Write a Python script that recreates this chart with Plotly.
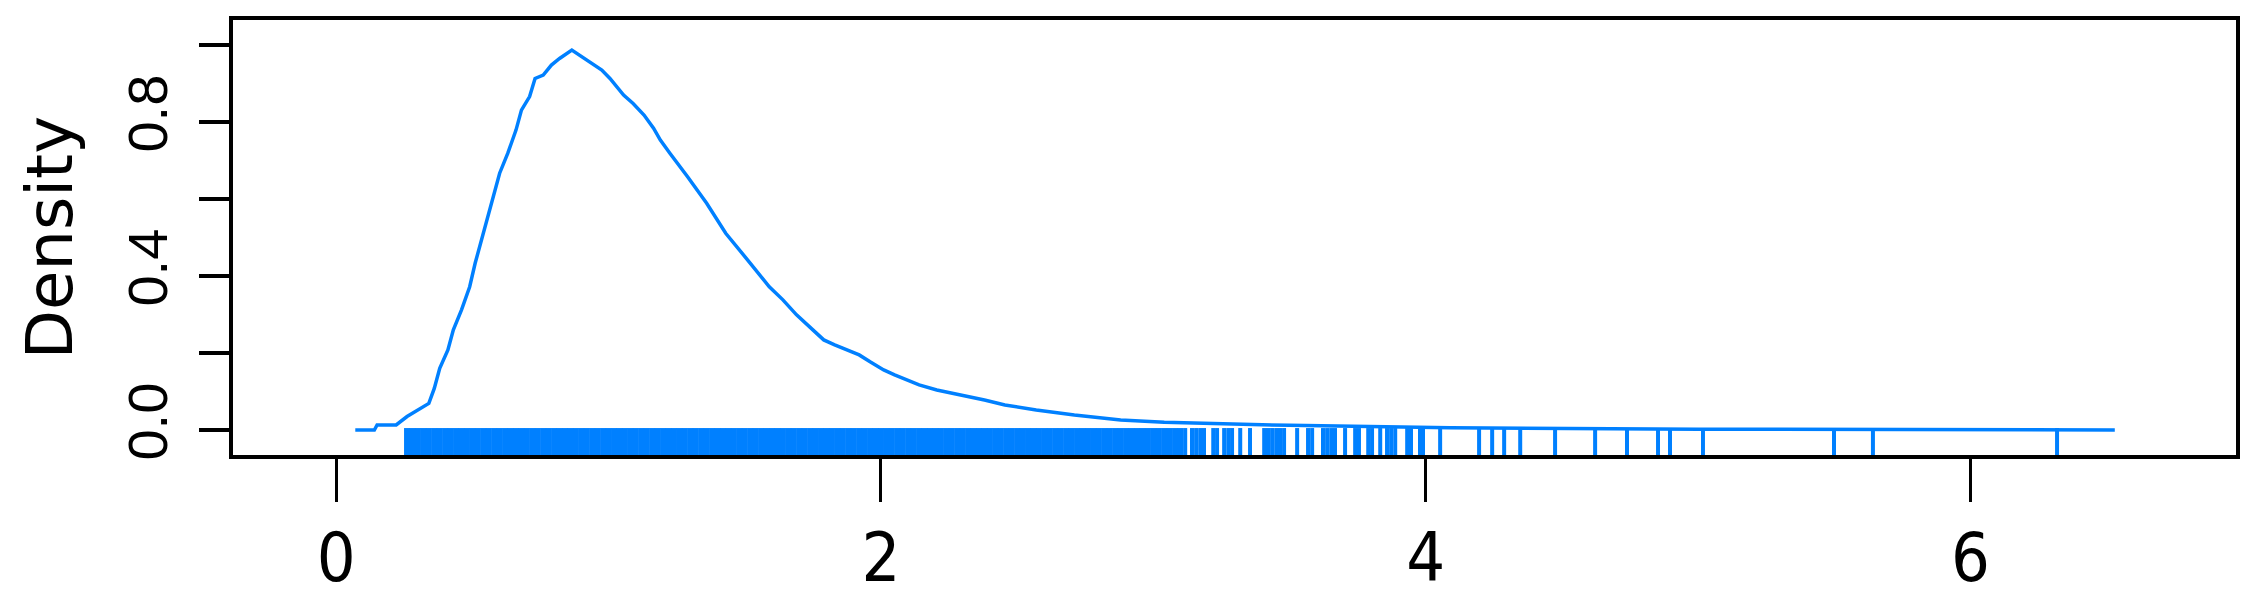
import plotly.graph_objects as go

# density curve
dens_x = [0.07, 0.14, 0.15, 0.22, 0.26, 0.30, 0.34, 0.36, 0.38, 0.41, 0.43, 0.46,
          0.49, 0.51, 0.54, 0.57, 0.60, 0.63, 0.66, 0.68, 0.71, 0.73, 0.76, 0.79,
          0.82, 0.865, 0.91, 0.945, 0.975, 1.005, 1.055, 1.09, 1.13, 1.165, 1.19,
          1.225, 1.26, 1.29, 1.36, 1.43, 1.51, 1.57, 1.59, 1.64, 1.69, 1.75, 1.79,
          1.83, 1.875, 1.92, 1.96, 2.01, 2.05, 2.095, 2.14, 2.205, 2.30, 2.38,
          2.455, 2.57, 2.71, 2.88, 3.04, 3.5, 4.09, 5.0, 6.53]
dens_y = [0.0, 0.0, 0.013, 0.013, 0.035, 0.052, 0.069, 0.108, 0.160, 0.208, 0.260, 0.312,
          0.372, 0.433, 0.511, 0.589, 0.667, 0.719, 0.779, 0.831, 0.866, 0.913, 0.922, 0.948,
          0.965, 0.987, 0.965, 0.948, 0.935, 0.913, 0.870, 0.848, 0.818, 0.784, 0.753,
          0.719, 0.688, 0.658, 0.589, 0.511, 0.442, 0.390, 0.372, 0.338, 0.299, 0.260, 0.234,
          0.221, 0.208, 0.195, 0.177, 0.156, 0.143, 0.130, 0.117, 0.104, 0.091, 0.078,
          0.065, 0.052, 0.039, 0.026, 0.020, 0.012, 0.006, 0.002, 0.0]

# rug: the dense part looks solid, so observations are listed close together
rug_dense = [0.26, 0.28, 0.30, 0.32, 0.34, 0.36, 0.38, 0.40, 0.42, 0.44, 0.46, 0.48,
             0.50, 0.52, 0.54, 0.56, 0.58, 0.60, 0.62, 0.64, 0.66, 0.68, 0.70, 0.72,
             0.74, 0.76, 0.78, 0.80, 0.82, 0.84, 0.86, 0.88, 0.90, 0.92, 0.94, 0.96,
             0.98, 1.00, 1.02, 1.04, 1.06, 1.08, 1.10, 1.12, 1.14, 1.16, 1.18, 1.20,
             1.22, 1.24, 1.26, 1.28, 1.30, 1.32, 1.34, 1.36, 1.38, 1.40, 1.42, 1.44,
             1.46, 1.48, 1.50, 1.52, 1.54, 1.56, 1.58, 1.60, 1.62, 1.64, 1.66, 1.68,
             1.70, 1.72, 1.74, 1.76, 1.78, 1.80, 1.82, 1.84, 1.86, 1.88, 1.90, 1.92,
             1.94, 1.96, 1.98, 2.00, 2.02, 2.04, 2.06, 2.08, 2.10, 2.12, 2.14, 2.16,
             2.18, 2.20, 2.22, 2.24, 2.26, 2.28, 2.30, 2.32, 2.34, 2.36, 2.38, 2.40,
             2.42, 2.44, 2.46, 2.48, 2.50, 2.52, 2.54, 2.56, 2.58, 2.60, 2.62, 2.64,
             2.66, 2.68, 2.70, 2.72, 2.74, 2.76, 2.78, 2.80, 2.82, 2.84, 2.86, 2.88,
             2.90, 2.92, 2.94, 2.96, 2.98, 3.00, 3.02, 3.04, 3.06, 3.08, 3.10]
rug_sparse = [3.117, 3.142, 3.157, 3.172, 3.186, 3.220, 3.234, 3.260, 3.275, 3.289,
              3.319, 3.355, 3.407, 3.421, 3.436, 3.451, 3.465, 3.480, 3.528, 3.568,
              3.583, 3.623, 3.638, 3.653, 3.667, 3.704, 3.741, 3.755, 3.789, 3.803,
              3.833, 3.858, 3.873, 3.888, 3.932, 3.946, 3.979, 3.990, 4.053, 4.196,
              4.244, 4.288, 4.347, 4.475, 4.622, 4.739, 4.853, 4.897, 5.018, 5.499,
              5.642, 6.318]

x_ticks = [0, 2, 4, 6]
y_ticks = [0.0, 0.2, 0.4, 0.6, 0.8, 1.0]
y_ticktext = ['0.0', '', '0.4', '', '0.8', '']

BLUE = '#0080ff'
YMIN, YMAX = -0.065, 1.065


def rug_segments(values, top=0.005):
    xs, ys = [], []
    for v in values:
        xs += [v, v, None]
        ys += [YMIN, top, None]
    return xs, ys


fig = go.Figure()
fig.add_trace(go.Scatter(x=dens_x, y=dens_y, mode='lines',
                         line=dict(color=BLUE, width=3.5), showlegend=False))
rx, ry = rug_segments(rug_dense)
fig.add_trace(go.Scatter(x=rx, y=ry, mode='lines',
                         line=dict(color=BLUE, width=6), showlegend=False))
rx, ry = rug_segments(rug_sparse)
fig.add_trace(go.Scatter(x=rx, y=ry, mode='lines',
                         line=dict(color=BLUE, width=4), showlegend=False))

# the page body adds an 8px margin, so the figure is a little smaller than the window
fig.update_layout(
    template='none',
    width=2256, height=603,
    margin=dict(l=225, r=28, t=12, b=156, autoexpand=False),
    paper_bgcolor='white', plot_bgcolor='white',
    font=dict(family='Liberation Sans, Arial, sans-serif', color='black'),
    showlegend=False,
    xaxis=dict(
        range=[-0.379, 6.975], showgrid=False, zeroline=False, automargin=False,
        showline=True, mirror=True, linecolor='black', linewidth=3.5,
        ticks='outside', ticklen=43, tickwidth=3, tickcolor='black',
        tickvals=x_ticks, ticktext=[str(t) for t in x_ticks],
        tickfont=dict(family='Liberation Sans Narrow, DejaVu Sans Condensed, Liberation Sans',
                      size=68, color='black'),
        ticklabelstandoff=-2,
    ),
    yaxis=dict(
        range=[YMIN, YMAX], showgrid=False, zeroline=False, automargin=False,
        showline=True, mirror=True, linecolor='black', linewidth=3.5,
        ticks='outside', ticklen=30, tickwidth=3.5, tickcolor='black',
        tickvals=y_ticks, ticktext=y_ticktext, tickangle=-90,
        tickfont=dict(family='Liberation Sans', size=56, color='black'),
        ticklabelstandoff=10,
    ),
    annotations=[dict(
        text='Density', textangle=-90, showarrow=False,
        xref='paper', yref='paper', x=-0.0915, y=0.5,
        xanchor='center', yanchor='middle',
        font=dict(family='DejaVu Sans', size=64, color='black'),
    )],
)

fig.write_html("out.html")
